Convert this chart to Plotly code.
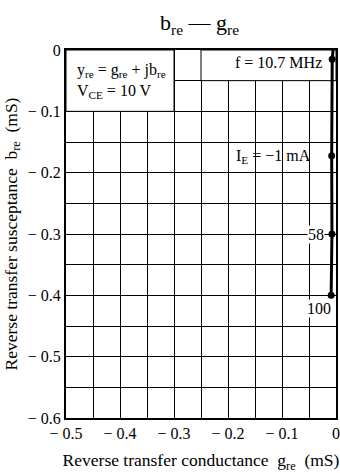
import plotly.graph_objects as go

# curve data (g_re, b_re) in mS
gre_curve = [-0.0055, -0.007, -0.008, -0.0075, -0.009]
bre_curve = [0.0, -0.015, -0.1725, -0.30, -0.40]
# marked points
gre_pts = [-0.007, -0.008, -0.0075, -0.009]
bre_pts = [-0.015, -0.1725, -0.30, -0.40]

x_ticks = [-0.5, -0.4, -0.3, -0.2, -0.1, 0]
x_ticktext = ["\u2212 0.5", "\u2212 0.4", "\u2212 0.3", "\u2212 0.2", "\u2212 0.1", "0"]
y_ticks = [0, -0.1, -0.2, -0.3, -0.4, -0.5, -0.6]
y_ticktext = ["0", "\u2212 0.1", "\u2212 0.2", "\u2212 0.3", "\u2212 0.4", "\u2212 0.5", "\u2212 0.6"]

FONT = "Liberation Serif"
FS = 16
FT = 17.5

fig = go.Figure()
fig.add_trace(go.Scatter(x=gre_curve, y=bre_curve, mode="lines",
                         line=dict(color="black", width=3), showlegend=False,
                         hoverinfo="skip", cliponaxis=True))
fig.add_trace(go.Scatter(x=gre_pts, y=bre_pts, mode="markers",
                         marker=dict(color="black", size=7), showlegend=False,
                         cliponaxis=False))

# white boxes covering the grid
fig.add_shape(type="rect", x0=-0.5, x1=-0.3, y0=-0.1, y1=0, xref="x", yref="y",
              fillcolor="white", line=dict(color="black", width=1), layer="between")
fig.add_shape(type="rect", x0=-0.25, x1=0, y0=-0.05, y1=0, xref="x", yref="y",
              fillcolor="white", line=dict(color="black", width=1), layer="between")

ann_font = dict(family=FONT, size=FS, color="black")
fig.add_annotation(x=-0.483, y=-0.05, xref="x", yref="y", xanchor="left", yanchor="middle",
                   align="left", showarrow=False, font=ann_font,
                   text="y<sub>re</sub> = g<sub>re</sub> + jb<sub>re</sub><br>V<sub>CE</sub> = 10 V")
fig.add_annotation(x=-0.022, y=-0.0196, xref="x", yref="y", xanchor="right", yanchor="middle",
                   showarrow=False, font=ann_font, text="f = 10.7 MHz")
fig.add_annotation(x=-0.042, y=-0.173, xref="x", yref="y", xanchor="right", yanchor="middle",
                   showarrow=False, font=ann_font, text="I<sub>E</sub> = \u22121 mA")
fig.add_annotation(x=-0.020, y=-0.30, xref="x", yref="y", xanchor="right", yanchor="middle",
                   showarrow=False, font=ann_font, text="58", bgcolor="white", borderpad=0)
fig.add_annotation(x=-0.031, y=-0.421, xref="x", yref="y", xanchor="center", yanchor="middle",
                   showarrow=False, font=ann_font, text="100", bgcolor="white", borderpad=0)

fig.update_layout(
    width=340, height=473,
    margin=dict(l=66, r=4, t=50, b=55, autoexpand=False),
    paper_bgcolor="white", plot_bgcolor="white",
    font=dict(family=FONT, size=FS, color="black"),
    title=dict(text="b<sub>re</sub> \u2014 g<sub>re</sub>", x=0.587, xanchor="center",
               y=0.952, yanchor="middle", font=dict(family=FONT, size=22, color="black")),
)
fig.update_xaxes(range=[-0.5, 0], tickvals=x_ticks, ticktext=x_ticktext,
                 automargin=False,
                 showgrid=True, gridcolor="black", gridwidth=1,
                 minor=dict(dtick=0.05, showgrid=True, gridcolor="black", gridwidth=1),
                 showline=True, mirror=True, linecolor="black", linewidth=2,
                 zeroline=False, ticks="", tickfont=dict(family=FONT, size=FS),
                 title=dict(text="Reverse transfer conductance\u00a0\u00a0g<sub>re</sub>\u00a0\u00a0(mS)",
                            font=dict(family=FONT, size=FT), standoff=13))
fig.update_yaxes(range=[-0.6, 0], tickvals=y_ticks, ticktext=y_ticktext,
                 automargin=False,
                 showgrid=True, gridcolor="black", gridwidth=1,
                 minor=dict(dtick=0.05, showgrid=True, gridcolor="black", gridwidth=1),
                 showline=True, mirror=True, linecolor="black", linewidth=2,
                 zeroline=False, ticks="", tickfont=dict(family=FONT, size=FS),
                 title=dict(text="Reverse transfer susceptance\u00a0\u00a0b<sub>re</sub>\u00a0\u00a0(mS)",
                            font=dict(family=FONT, size=FT), standoff=6))

fig.write_html("out.html", config={"displayModeBar": False},
               post_script="document.body.style.margin='0';document.body.style.padding='0';")
